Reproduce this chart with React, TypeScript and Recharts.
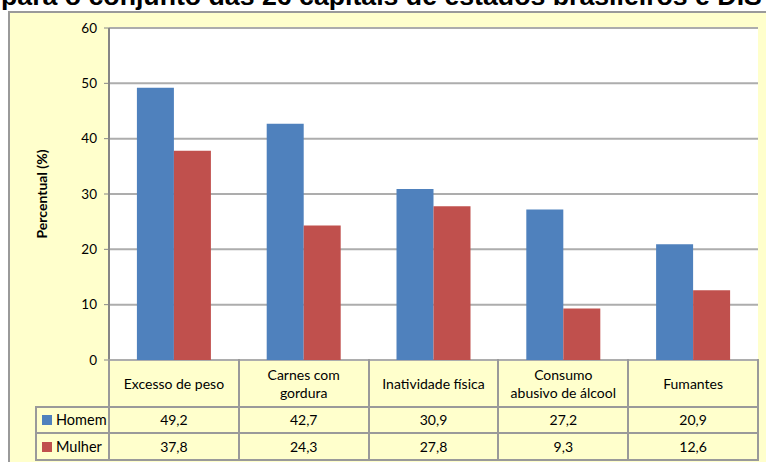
import React from 'react';
import { BarChart, Bar, XAxis, YAxis, CartesianGrid } from 'recharts';

// categorias (quebra de linha igual ao original)
const categories = ['Excesso de peso', 'Carnes com\ngordura', 'Inatividade física', 'Consumo\nabusivo de álcool', 'Fumantes'];
const homem = [49.2, 42.7, 30.9, 27.2, 20.9];
const mulher = [37.8, 24.3, 27.8, 9.3, 12.6];
const yTicks = [0, 10, 20, 30, 40, 50, 60];
const seriesNames = ['Homem', 'Mulher'];

const BLUE = '#4F81BD';
const RED = '#C0504D';
const PANEL = '#FFFFCC';
const LINE = '#9A9A9A';
const FONT = 'Lato, "Open Sans", sans-serif';

const chartData = categories.map((c, i) => ({ name: c, homem: homem[i], mulher: mulher[i] }));

const fmt = (v: number) => v.toFixed(1).replace('.', ',');

const W = 766;
const H = 462;
const PLOT_LEFT = 109;
const PLOT_RIGHT = 758;
const PLOT_TOP = 28;
const PLOT_BOTTOM = 360;
const LEGEND_LEFT = 36;
const ROW_HEIGHTS = [47, 26, 27];

const YLabel = (props: any) => {
  const vb = props.viewBox || { x: 0, y: 0, width: 0, height: 0 };
  const x = vb.x + 41;
  const y = vb.y + vb.height / 2;
  return (
    <text
      x={x}
      y={y}
      transform={`rotate(-90, ${x}, ${y})`}
      textAnchor="middle"
      dominantBaseline="central"
      fontFamily={FONT}
      fontWeight="bold"
      fontSize={14}
      fill="#000"
    >
      Percentual (%)
    </text>
  );
};

const DataTable = () => {
  const colW = (PLOT_RIGHT - PLOT_LEFT) / categories.length;
  const border = `2px solid ${LINE}`;
  const cell: React.CSSProperties = {
    position: 'absolute',
    boxSizing: 'border-box',
    display: 'flex',
    alignItems: 'center',
    justifyContent: 'center',
    textAlign: 'center',
    fontFamily: FONT,
    fontSize: 14,
    color: '#000',
    lineHeight: '18px',
    whiteSpace: 'pre-line',
  };
  const rowsTop = [PLOT_BOTTOM, PLOT_BOTTOM + ROW_HEIGHTS[0], PLOT_BOTTOM + ROW_HEIGHTS[0] + ROW_HEIGHTS[1]];
  const out: React.ReactNode[] = [];
  categories.forEach((c, i) => {
    out.push(
      <div
        key={`c${i}`}
        style={{
          ...cell,
          left: PLOT_LEFT + i * colW - 1,
          top: rowsTop[0] - 1,
          width: colW + 2,
          height: ROW_HEIGHTS[0] + 2,
          borderLeft: border,
          borderRight: border,
          borderBottom: border,
          paddingTop: 2,
        }}
      >
        {c}
      </div>
    );
  });
  [homem, mulher].forEach((vals, r) => {
    out.push(
      <div
        key={`l${r}`}
        style={{
          ...cell,
          justifyContent: 'flex-start',
          left: LEGEND_LEFT - 1,
          top: rowsTop[r + 1] - 1,
          width: PLOT_LEFT - LEGEND_LEFT + 2,
          height: ROW_HEIGHTS[r + 1] + 2,
          border,
          paddingLeft: 5,
          fontSize: 14.5,
        }}
      >
        <span style={{ display: 'inline-block', width: 10, height: 10, background: r === 0 ? BLUE : RED, marginRight: 4 }} />
        {seriesNames[r]}
      </div>
    );
    vals.forEach((v, i) => {
      out.push(
        <div
          key={`v${r}-${i}`}
          style={{
            ...cell,
            left: PLOT_LEFT + i * colW - 1,
            top: rowsTop[r + 1] - 1,
            width: colW + 2,
            height: ROW_HEIGHTS[r + 1] + 2,
            border,
          }}
        >
          {fmt(v)}
        </div>
      );
    });
  });
  return <>{out}</>;
};

export default function App() {
  return (
    <div style={{ position: 'absolute', left: 0, top: 0, width: W, height: H, overflow: 'hidden', background: '#fff' }}>
      <div
        style={{
          position: 'absolute',
          left: 8,
          top: 11,
          width: W - 8,
          height: H - 11,
          background: PANEL,
          borderLeft: `2px solid ${LINE}`,
          borderTop: `2px solid ${LINE}`,
          boxSizing: 'border-box',
        }}
      />
      <div
        style={{
          position: 'absolute',
          left: 1,
          top: -17,
          fontFamily: '"Liberation Sans", Arial, sans-serif',
          fontWeight: 'bold',
          fontSize: 26.7,
          lineHeight: '26.7px',
          whiteSpace: 'nowrap',
          color: '#000',
        }}
      >
        para o conjunto das 26 capitais de estados brasileiros e DISTRITO FEDERAL
      </div>
      <div style={{ position: 'absolute', left: 0, top: 0 }}>
        <BarChart
          width={W}
          height={H}
          data={chartData}
          margin={{ top: PLOT_TOP, right: W - PLOT_RIGHT, bottom: H - PLOT_BOTTOM, left: 0 }}
          barCategoryGap="21.5%"
          barGap={0}
        >
          <CartesianGrid vertical={false} stroke="#ADADAD" strokeWidth={2} fill="#fff" />
          <XAxis dataKey="name" hide />
          <YAxis
            width={PLOT_LEFT}
            domain={[0, 60]}
            ticks={yTicks}
            interval={0}
            axisLine={{ stroke: '#868686', strokeWidth: 2 }}
            tickLine={{ stroke: '#868686', strokeWidth: 1 }}
            tickSize={5}
            tickMargin={7}
            tick={{ fill: '#000', fontSize: 13.5, fontFamily: FONT }}
            label={<YLabel />}
          />
          <Bar dataKey="homem" fill={BLUE} isAnimationActive={false} />
          <Bar dataKey="mulher" fill={RED} isAnimationActive={false} />
        </BarChart>
      </div>
      <DataTable />
    </div>
  );
}
